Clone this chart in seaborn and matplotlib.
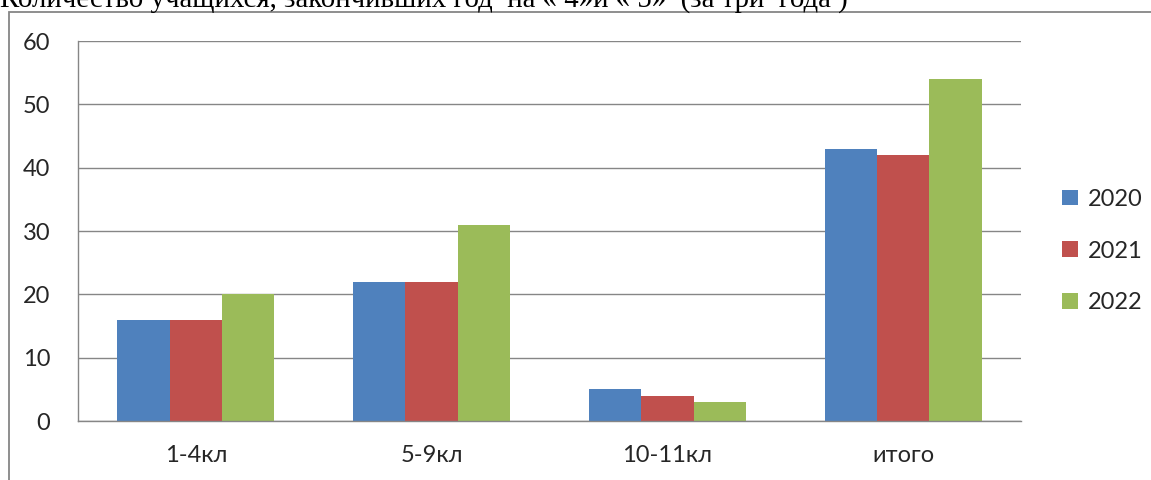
import matplotlib
matplotlib.use("Agg")
import matplotlib.pyplot as plt
import seaborn as sns
import pandas as pd
from matplotlib.patches import Rectangle, Patch

categories = ["1-4кл", "5-9кл", "10-11кл", "итого"]
years = ["2020", "2021", "2022"]
v2020 = [16, 22, 5, 43]
v2021 = [16, 22, 4, 42]
v2022 = [20, 31, 3, 54]
colors = ["#4F81BD", "#C0504D", "#9BBB59"]
title = "Количество учащихся, закончивших год  на « 4»и « 5»  (за три  года )"

rows = []
for y, vals in zip(years, [v2020, v2021, v2022]):
    for c, v in zip(categories, vals):
        rows.append({"cat": c, "year": y, "val": v})
df = pd.DataFrame(rows)

sns.set_style("white")
plt.rcParams["font.family"] = ["Lato", "DejaVu Sans"]

W, H = 1151, 480
fig = plt.figure(figsize=(W / 100, H / 100), dpi=100)
ax = fig.add_axes([78 / W, 1 - 421 / H, (1021 - 78) / W, (421 - 41) / H])

sns.barplot(data=df, x="cat", y="val", hue="year", palette=colors, ax=ax,
            width=3 / 4.5, saturation=1, errorbar=None, linewidth=0, legend=False)

grid_c = "#868686"
ax.set_ylim(0, 60)
ax.set_xlim(-0.5, 3.5)
ax.set_yticks(range(0, 61, 10))
ax.yaxis.grid(True, color=grid_c, linewidth=1)
ax.set_axisbelow(True)
ax.set_xticks([-0.5, 0.5, 1.5, 2.5, 3.5])
ax.set_xticklabels([])
ax.set_xticks(range(len(categories)), minor=True)
ax.set_xticklabels(categories, minor=True)
ax.tick_params(axis="x", which="major", length=8, width=1, color=grid_c, direction="out")
ax.tick_params(axis="x", which="minor", length=0, pad=17, labelsize=17)
ax.tick_params(axis="y", length=8, width=1, color=grid_c, direction="out", pad=12, labelsize=17)
ax.set_xlabel("")
ax.set_ylabel("")
for s in ["top", "right"]:
    ax.spines[s].set_visible(False)
for s in ["left", "bottom"]:
    ax.spines[s].set_color(grid_c)
    ax.spines[s].set_linewidth(1)

handles = [Patch(facecolor=c, edgecolor="none") for c in colors]
fig.legend(handles, years, loc="center left", bbox_to_anchor=(1041 / W, 1 - 251 / H),
           frameon=False, fontsize=17, handlelength=0.65, handleheight=0.65,
           labelspacing=1.3, handletextpad=0.45)

fig.patches.append(Rectangle((9 / W, -0.05), 1.1, (480 - 12) / H + 0.05,
                             transform=fig.transFigure, fill=False,
                             edgecolor=grid_c, linewidth=1.3, figure=fig))

fig.text(0, 1 - 7 / H, title, family="Liberation Serif", fontsize=20.8,
         va="baseline", ha="left", color="black")

fig.savefig("out.png", dpi=100)
